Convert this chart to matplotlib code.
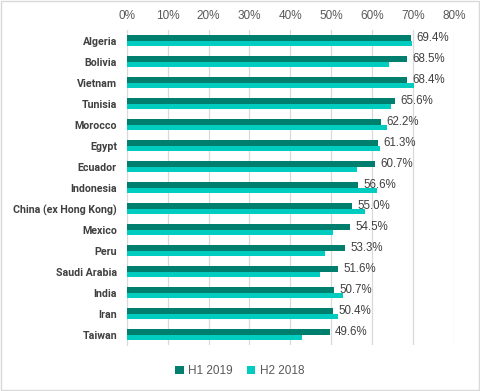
import matplotlib.pyplot as plt
import numpy as np
from matplotlib.patches import Rectangle
from matplotlib.ticker import PercentFormatter

countries = ["Algeria", "Bolivia", "Vietnam", "Tunisia", "Morocco", "Egypt", "Ecuador",
             "Indonesia", "China (ex Hong Kong)", "Mexico", "Peru", "Saudi Arabia",
             "India", "Iran", "Taiwan"]
h1_2019 = [69.4, 68.5, 68.4, 65.6, 62.2, 61.3, 60.7, 56.6, 55.0, 54.5, 53.3, 51.6, 50.7, 50.4, 49.6]
h2_2018 = [69.8, 64.0, 70.1, 64.7, 63.7, 62.0, 56.3, 61.2, 58.3, 50.3, 48.5, 47.3, 52.9, 51.7, 42.8]

dark = "#007F6E"
light = "#00CCC0"
txt = "#595959"
plt.rcParams["font.family"] = ["Liberation Sans", "DejaVu Sans"]

fig = plt.figure(figsize=(4.8, 3.91), dpi=100)
ax = fig.add_axes([0.264, 0.117, 0.682, 0.806])

y = np.arange(len(countries))
h = 0.26
ax.barh(y - h / 2, h1_2019, height=h, color=dark, label="H1 2019", zorder=3)
ax.barh(y + h / 2, h2_2018, height=h, color=light, label="H2 2018", zorder=3)
for yi, v in zip(y, h1_2019):
    ax.text(v + 1.3, yi - h / 2, f"{v:.1f}%", va="center", ha="left", fontsize=8.3, color="#404040")

ax.set_xlim(0, 80)
ax.set_ylim(len(countries) - 0.5, -0.5)
ax.set_xticks(np.arange(0, 81, 10))
ax.xaxis.set_major_formatter(PercentFormatter(decimals=0))
ax.xaxis.tick_top()
ax.tick_params(axis="x", length=0, pad=6, labelsize=8.5, labelcolor=txt)
ax.set_yticks(y)
ax.set_yticklabels(countries, fontsize=7.7, fontweight="bold", color="#404040",
                   family=["Roboto", "Liberation Sans"])
ax.tick_params(axis="y", length=0, pad=7)
ax.grid(axis="x", color="#D9D9D9", lw=0.9, zorder=0)
for s in ["top", "right", "bottom"]:
    ax.spines[s].set_visible(False)
ax.spines["left"].set_color("#D9D9D9")

leg = fig.legend(loc="center", bbox_to_anchor=(0.5, 0.051), ncol=2, frameon=False,
                 fontsize=8.5, handlelength=0.7, handleheight=0.7, handletextpad=0.4,
                 columnspacing=1.2)
for t in leg.get_texts():
    t.set_color(txt)

fig.patches.append(Rectangle((0.002, 0.002), 0.996, 0.996, transform=fig.transFigure,
                             fill=False, edgecolor="#D9D9D9", lw=1))
fig.savefig("out.png", dpi=100)
